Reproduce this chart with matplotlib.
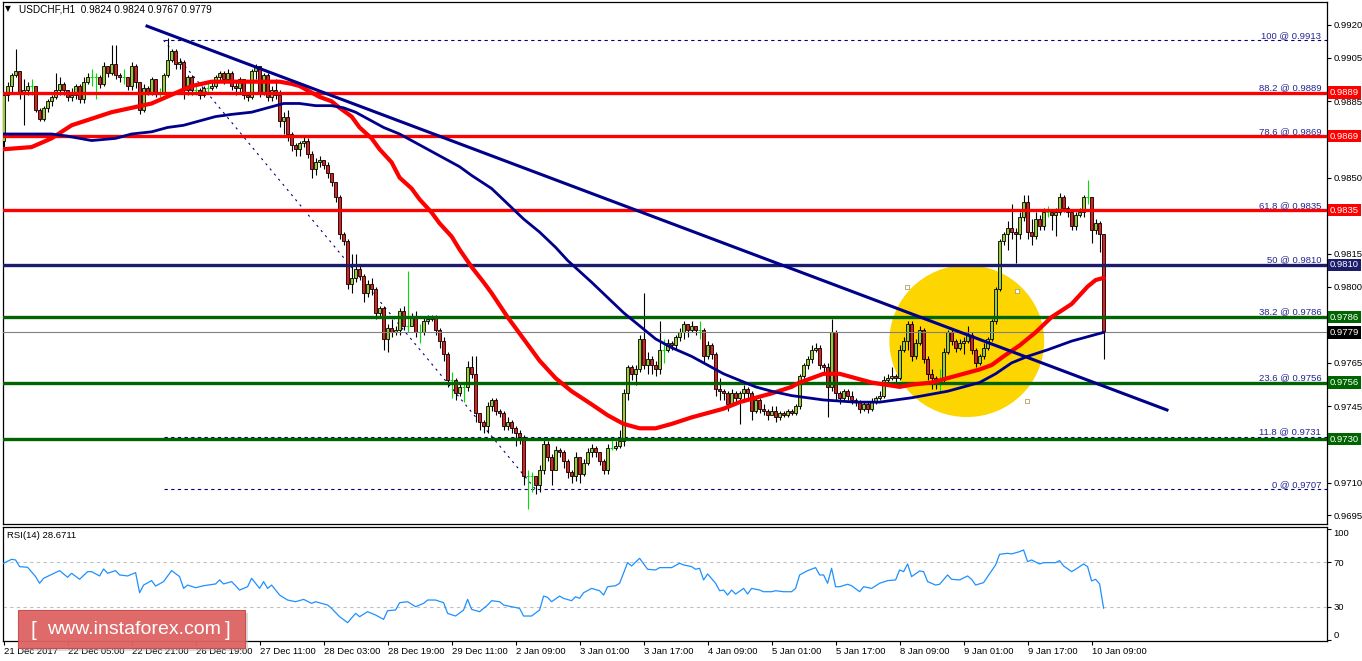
import numpy as np
import matplotlib.pyplot as plt
import matplotlib.transforms as mtransforms
from matplotlib.patches import Ellipse, Rectangle

W, H = 1362, 661

# hourly candles, prices in pips (x 0.0001); open of each bar = previous close
first_open = 9867
close_pips = [
    9888, 9892, 9897, 9899, 9889, 9890, 9892, 9892, 9881, 9877,
    9882, 9885, 9887, 9890, 9893, 9890, 9887, 9888, 9892, 9886,
    9894, 9896, 9896, 9896, 9893, 9901, 9898, 9902, 9897, 9896,
    9896, 9892, 9901, 9894, 9881, 9891, 9889, 9895, 9889, 9889,
    9897, 9904, 9908, 9902, 9903, 9890, 9896, 9890, 9890, 9888,
    9891, 9891, 9892, 9896, 9898, 9895, 9898, 9892, 9891, 9895,
    9888, 9887, 9899, 9901, 9889, 9897, 9887, 9890, 9888, 9876,
    9878, 9870, 9865, 9863, 9866, 9867, 9861, 9854, 9857, 9858,
    9856, 9852, 9848, 9841, 9824, 9821, 9801, 9804, 9808, 9805,
    9797, 9801, 9799, 9788, 9790, 9776, 9781, 9779, 9780, 9789,
    9782, 9782, 9786, 9779, 9779, 9784, 9785, 9786, 9780, 9775,
    9769, 9757, 9757, 9751, 9754, 9754, 9763, 9760, 9742, 9738,
    9736, 9745, 9748, 9743, 9742, 9736, 9738, 9735, 9733, 9731,
    9713, 9713, 9713, 9709, 9716, 9728, 9722, 9716, 9725, 9724,
    9720, 9715, 9713, 9722, 9714, 9719, 9724, 9726, 9724, 9720,
    9716, 9726, 9726, 9727, 9729, 9751, 9763, 9760, 9762, 9776,
    9764, 9767, 9764, 9762, 9771, 9771, 9774, 9773, 9777, 9779,
    9783, 9780, 9782, 9780, 9780, 9768, 9773, 9769, 9753, 9752,
    9751, 9746, 9751, 9749, 9751, 9753, 9751, 9743, 9748, 9744,
    9743, 9741, 9743, 9740, 9742, 9741, 9743, 9742, 9745, 9759,
    9764, 9767, 9771, 9772, 9764, 9763, 9754, 9779, 9751, 9749,
    9752, 9750, 9748, 9747, 9744, 9746, 9744, 9747, 9749, 9750,
    9757, 9758, 9759, 9758, 9771, 9775, 9783, 9768, 9774, 9780,
    9767, 9760, 9758, 9757, 9757, 9770, 9779, 9775, 9772, 9774,
    9775, 9778, 9771, 9765, 9768, 9772, 9776, 9784, 9799, 9821,
    9824, 9827, 9825, 9824, 9832, 9839, 9825, 9823, 9831, 9828,
    9834, 9834, 9833, 9834, 9841, 9836, 9834, 9828, 9833, 9834,
    9841, 9841, 9826, 9829, 9824, 9779,
]
high_pips = [
    9889, 9894, 9898, 9909, 9899, 9895, 9894, 9895, 9892, 9882,
    9883, 9886, 9888, 9898, 9896, 9894, 9890, 9891, 9893, 9893,
    9896, 9898, 9900, 9898, 9897, 9903, 9901, 9911, 9911, 9898,
    9900, 9896, 9903, 9902, 9890, 9893, 9892, 9896, 9895, 9891,
    9898, 9914, 9909, 9909, 9905, 9904, 9897, 9897, 9893, 9891,
    9892, 9894, 9894, 9897, 9899, 9899, 9900, 9899, 9894, 9896,
    9895, 9889, 9900, 9902, 9901, 9898, 9898, 9892, 9895, 9890,
    9880, 9881, 9871, 9866, 9867, 9869, 9868, 9862, 9859, 9860,
    9858, 9857, 9852, 9848, 9842, 9825, 9822, 9815, 9815, 9810,
    9806, 9803, 9804, 9800, 9791, 9791, 9783, 9785, 9782, 9790,
    9791, 9807, 9788, 9789, 9783, 9786, 9787, 9787, 9787, 9781,
    9777, 9770, 9761, 9758, 9756, 9756, 9766, 9768, 9768, 9742,
    9739, 9747, 9749, 9749, 9744, 9743, 9740, 9739, 9736, 9734,
    9732, 9716, 9715, 9713, 9718, 9731, 9729, 9723, 9727, 9726,
    9725, 9721, 9716, 9724, 9722, 9721, 9726, 9728, 9727, 9724,
    9721, 9728, 9730, 9729, 9734, 9753, 9764, 9764, 9764, 9778,
    9797, 9770, 9768, 9766, 9784, 9776, 9776, 9775, 9778, 9781,
    9784, 9783, 9784, 9782, 9784, 9781, 9775, 9774, 9770, 9758,
    9753, 9752, 9753, 9752, 9752, 9755, 9754, 9752, 9749, 9749,
    9746, 9744, 9745, 9745, 9743, 9743, 9744, 9744, 9746, 9760,
    9765, 9768, 9773, 9774, 9773, 9765, 9765, 9785, 9780, 9752,
    9753, 9753, 9752, 9749, 9748, 9747, 9747, 9749, 9750, 9752,
    9759, 9760, 9763, 9760, 9773, 9777, 9784, 9784, 9776, 9782,
    9781, 9768, 9762, 9759, 9762, 9772, 9780, 9780, 9776, 9776,
    9777, 9782, 9779, 9772, 9769, 9774, 9777, 9785, 9800, 9822,
    9825, 9830, 9838, 9827, 9834, 9842, 9842, 9831, 9834, 9833,
    9836, 9837, 9835, 9836, 9843, 9842, 9837, 9835, 9834, 9836,
    9842, 9849, 9841, 9831, 9830, 9824,
]
low_pips = [
    9864, 9885, 9889, 9896, 9886, 9874, 9888, 9888, 9880, 9876,
    9876, 9880, 9883, 9886, 9888, 9888, 9885, 9885, 9886, 9884,
    9884, 9893, 9892, 9886, 9891, 9892, 9896, 9897, 9895, 9894,
    9893, 9890, 9890, 9891, 9879, 9880, 9888, 9888, 9887, 9887,
    9889, 9896, 9903, 9900, 9900, 9886, 9888, 9888, 9888, 9886,
    9887, 9889, 9890, 9891, 9894, 9893, 9894, 9890, 9888, 9889,
    9886, 9885, 9886, 9895, 9887, 9888, 9885, 9885, 9886, 9873,
    9870, 9867, 9862, 9860, 9860, 9864, 9859, 9850, 9851, 9855,
    9854, 9850, 9846, 9839, 9822, 9819, 9799, 9797, 9802, 9803,
    9793, 9795, 9796, 9785, 9786, 9771, 9770, 9777, 9778, 9778,
    9780, 9779, 9783, 9777, 9774, 9778, 9783, 9784, 9778, 9772,
    9766, 9754, 9749, 9748, 9750, 9747, 9752, 9758, 9738, 9734,
    9733, 9733, 9743, 9741, 9740, 9734, 9734, 9733, 9727, 9728,
    9709, 9698, 9706, 9705, 9706, 9714, 9720, 9709, 9716, 9722,
    9717, 9712, 9710, 9711, 9710, 9713, 9718, 9722, 9722, 9718,
    9714, 9714, 9725, 9725, 9726, 9727, 9748, 9757, 9755, 9761,
    9762, 9760, 9760, 9759, 9760, 9765, 9770, 9771, 9771, 9775,
    9776, 9777, 9779, 9778, 9776, 9765, 9767, 9767, 9750, 9748,
    9748, 9743, 9745, 9746, 9737, 9748, 9749, 9739, 9742, 9742,
    9741, 9739, 9741, 9738, 9739, 9740, 9740, 9741, 9741, 9744,
    9757, 9762, 9765, 9770, 9762, 9760, 9740, 9752, 9748, 9746,
    9748, 9748, 9746, 9745, 9742, 9743, 9742, 9743, 9746, 9748,
    9749, 9756, 9757, 9756, 9757, 9770, 9771, 9766, 9767, 9773,
    9765, 9757, 9753, 9753, 9752, 9756, 9769, 9773, 9770, 9771,
    9769, 9774, 9769, 9763, 9764, 9767, 9771, 9775, 9783, 9798,
    9819, 9817, 9822, 9811, 9822, 9830, 9822, 9819, 9822, 9826,
    9826, 9832, 9826, 9823, 9833, 9834, 9832, 9826, 9826, 9832,
    9832, 9838, 9820, 9824, 9816, 9767,
]

# moving averages (bar, pips)
red_ma = [
    (0, 9863), (7, 9864), (12, 9868), (17, 9874), (22, 9877), (27, 9880),
    (32, 9882), (37, 9884), (42, 9888), (47, 9892), (52, 9894), (64, 9894),
    (69, 9894), (72, 9893), (74, 9892), (77, 9889), (79, 9887), (82, 9885),
    (84, 9882), (87, 9878), (89, 9873), (92, 9868), (94, 9863), (97, 9857),
    (99, 9850), (102, 9845), (104, 9840), (107, 9834), (109, 9829), (112, 9823),
    (114, 9817), (117, 9809), (120, 9802), (122, 9797), (126, 9786), (130, 9776),
    (134, 9766), (138, 9758), (142, 9752), (147, 9746), (151, 9741), (155, 9737),
    (159, 9735), (163, 9735), (167, 9737), (172, 9740), (176, 9742), (180, 9744),
    (184, 9747), (188, 9749), (192, 9751), (197, 9754), (199, 9756), (202, 9758),
    (205, 9760), (209, 9760), (213, 9758), (217, 9756), (224, 9754), (227, 9755),
    (232, 9756), (236, 9758), (240, 9760), (244, 9762), (247, 9764), (250, 9768),
    (254, 9773), (258, 9779), (262, 9786), (267, 9792), (271, 9800), (273, 9803),
    (275, 9804),
]
navy_ma = [
    (0, 9870), (7, 9870), (12, 9870), (16, 9869), (22, 9867), (28, 9868),
    (32, 9870), (37, 9871), (41, 9873), (45, 9874), (49, 9876), (53, 9878),
    (57, 9879), (62, 9880), (66, 9882), (70, 9884), (74, 9884), (78, 9883),
    (82, 9883), (85, 9882), (88, 9880), (91, 9877), (95, 9873), (99, 9870),
    (103, 9866), (107, 9862), (110, 9859), (114, 9855), (117, 9851), (122, 9845),
    (126, 9838), (130, 9831), (134, 9825), (138, 9818), (141, 9812), (147, 9802),
    (151, 9795), (155, 9788), (159, 9782), (163, 9776), (167, 9772), (172, 9768),
    (176, 9764), (180, 9760), (184, 9757), (188, 9754), (192, 9752), (197, 9750),
    (205, 9748), (213, 9747), (219, 9747), (227, 9749), (236, 9752), (240, 9754),
    (244, 9756), (248, 9760), (252, 9765), (256, 9768), (261, 9771), (267, 9775),
    (275, 9779),
]

# RSI(14) (bar, value)
rsi_points = [
    (0, 69.1), (2, 72.7), (3, 72.1), (4, 66.1), (6, 65.5), (8, 57.1), (9, 51.1),
    (10, 55.6), (14, 62.5), (16, 56.5), (17, 60.1), (19, 54.7), (21, 61.6),
    (22, 61.6), (24, 57.7), (25, 64.0), (26, 60.1), (28, 62.5), (29, 58.6),
    (31, 57.7), (33, 60.7), (34, 42.6), (35, 49.5), (37, 53.5), (38, 48.6),
    (40, 52.6), (42, 62.5), (44, 57.1), (45, 46.5), (46, 49.5), (48, 47.1),
    (50, 48.9), (53, 50.5), (54, 54.1), (55, 50.5), (57, 52.6), (58, 48.9),
    (59, 45.0), (61, 48.0), (62, 55.6), (64, 46.5), (65, 52.6), (66, 46.5),
    (67, 49.5), (69, 40.5), (71, 36.0), (73, 34.5), (75, 36.6), (77, 33.0),
    (78, 34.5), (81, 31.5), (82, 28.5), (84, 21.0), (86, 15.6), (88, 24.0),
    (89, 21.0), (91, 25.5), (93, 22.5), (95, 18.6), (96, 26.4), (98, 27.0),
    (99, 33.6), (101, 34.5), (103, 30.0), (105, 33.0), (106, 36.0), (108, 36.0),
    (110, 33.6), (111, 24.0), (113, 21.6), (115, 27.0), (116, 36.6), (117, 27.6),
    (119, 25.5), (121, 31.5), (122, 35.4), (124, 34.5), (125, 31.5), (127, 30.0),
    (129, 28.5), (130, 21.6), (132, 21.6), (134, 27.0), (135, 39.6), (136, 38.4),
    (137, 34.5), (139, 39.6), (140, 37.5), (142, 35.4), (143, 39.0), (144, 37.5),
    (145, 42.6), (147, 46.5), (149, 44.4), (150, 40.5), (151, 48.0), (153, 48.9),
    (154, 51.1), (156, 69.7), (157, 66.7), (159, 73.6), (161, 63.7), (163, 63.1),
    (164, 65.2), (167, 65.2), (169, 69.1), (170, 67.6), (172, 66.1), (173, 63.7),
    (174, 64.6), (175, 54.1), (176, 59.5), (178, 51.1), (179, 44.4), (180, 45.0),
    (181, 40.5), (182, 45.0), (183, 41.4), (185, 46.5), (186, 41.4), (187, 46.5),
    (189, 45.0), (190, 43.5), (192, 43.5), (193, 44.4), (195, 43.5), (197, 43.5),
    (198, 46.5), (199, 58.6), (201, 62.5), (203, 65.2), (204, 58.6), (205, 58.6),
    (206, 51.1), (207, 64.6), (208, 48.0), (209, 48.0), (211, 50.2), (212, 48.9),
    (214, 43.5), (215, 48.0), (217, 46.5), (219, 51.1), (221, 53.5), (223, 54.1),
    (224, 63.1), (225, 61.6), (226, 68.5), (227, 57.1), (229, 62.2), (230, 61.6),
    (231, 52.6), (233, 49.5), (234, 50.2), (236, 58.6), (237, 54.7), (239, 54.1),
    (241, 57.7), (242, 54.7), (243, 49.5), (245, 51.7), (246, 57.1), (248, 67.6),
    (249, 77.2), (251, 78.1), (252, 77.5), (254, 79.6), (255, 81.1), (256, 70.6),
    (257, 72.1), (259, 68.5), (260, 69.7), (263, 69.7), (264, 71.5), (265, 66.7),
    (267, 61.6), (268, 63.7), (270, 68.5), (271, 66.1), (272, 53.2), (273, 54.7),
    (274, 50.5), (275, 28.7),
]

# fibonacci retracement object
fib_pct = ['100', '88.2', '78.6', '61.8', '50', '38.2', '23.6', '11.8', '0']
fib_price = [0.9913, 0.9889, 0.9869, 0.9835, 0.9810, 0.9786, 0.9756, 0.9731, 0.9707]
fib_bars = [40, 133]

# horizontal levels
level_price = [0.9889, 0.9869, 0.9835, 0.9810, 0.9786, 0.9756, 0.9730]
level_color = ['#ff0000', '#ff0000', '#ff0000', '#1c1c6c', '#006400', '#006400', '#006400']
last_price = 0.9779

# trendline and ellipse objects
trend_bars = [35.85, 290.85]
trend_price = [0.99195, 0.97434]
ellipse_center = (240.8, 0.97750)
ellipse_size = (38.7, 0.00697)
handle_bars = [225.9, 253.4, 255.9]
handle_price = [0.97998, 0.97980, 0.97475]

price_ticks = [0.9920, 0.9905, 0.9885, 0.9850, 0.9815, 0.9800, 0.9765, 0.9745, 0.9710, 0.9695]
time_labels = ['21 Dec 2017', '22 Dec 05:00', '22 Dec 21:00', '26 Dec 19:00', '27 Dec 11:00',
               '28 Dec 03:00', '28 Dec 19:00', '29 Dec 11:00', '2 Jan 09:00', '3 Jan 01:00',
               '3 Jan 17:00', '4 Jan 09:00', '5 Jan 01:00', '5 Jan 17:00', '8 Jan 09:00',
               '9 Jan 01:00', '9 Jan 17:00', '10 Jan 09:00']

plt.rcParams['font.family'] = ['Liberation Sans', 'DejaVu Sans']

fig = plt.figure(figsize=(W / 100, H / 100), dpi=100)


def fbox(l, t, r, b):
    return [l / W, 1 - b / H, (r - l) / W, (b - t) / H]


ax = fig.add_axes(fbox(2.5, 2, 1327, 524))
ax2 = fig.add_axes(fbox(2.5, 527, 1327, 641))
xlim = (-0.275, 330.85)

# candles
c = np.array(close_pips) / 1e4
o = np.array([first_open] + close_pips[:-1]) / 1e4
hi = np.array(high_pips) / 1e4
lo = np.array(low_pips) / 1e4
bars = np.arange(len(c))
up = c > o
dn = c < o
dj = c == o
top = np.maximum(hi, np.maximum(o, c))
bot = np.minimum(lo, np.minimum(o, c))
ax.vlines(bars[~dj], bot[~dj], top[~dj], color='black', lw=0.8, zorder=3)
ax.vlines(bars[dj], bot[dj], top[dj], color='#00e000', lw=0.8, zorder=3)
ax.hlines(c[dj], bars[dj] - 0.4, bars[dj] + 0.4, color='#00e000', lw=0.8, zorder=3)
ax.bar(bars[up], (c - o)[up], bottom=o[up], width=0.62, color='#9acd32',
       edgecolor='black', linewidth=0.6, zorder=3.5)
ax.bar(bars[dn], (o - c)[dn], bottom=c[dn], width=0.62, color='#e01e1e',
       edgecolor='black', linewidth=0.6, zorder=3.5)

# ellipse highlight
ax.add_patch(Ellipse(ellipse_center, ellipse_size[0], ellipse_size[1],
                     facecolor='#fdd500', edgecolor='none', zorder=1))
ax.scatter(handle_bars, handle_price, marker='s', s=9, facecolor='white',
           edgecolor='#b0a060', linewidth=0.6, zorder=2)

# fibonacci
for pct, p in zip(fib_pct, fib_price):
    ax.plot([fib_bars[0], xlim[1]], [p, p], color='#000080', lw=0.8,
            ls=(0, (3, 3)), zorder=2)
    ax.text(329.4, p + 0.00002, f'{pct} @ {p:.4f}', ha='right', va='bottom',
            fontsize=6.8, color='#24248f', zorder=8)
ax.plot(fib_bars, [fib_price[0], fib_price[-1]], color='#000080', lw=0.8,
        ls=(0, (2, 4)), zorder=2)

# horizontal levels
for p, col in zip(level_price, level_color):
    ax.axhline(p, color=col, lw=2.4, zorder=4)
ax.axhline(last_price, color='#808080', lw=0.8, zorder=4)

# moving averages and trendline
rb, rv = zip(*red_ma)
ax.plot(rb, np.array(rv) / 1e4, color='#ff0000', lw=3.0, zorder=5)
nb, nv = zip(*navy_ma)
ax.plot(nb, np.array(nv) / 1e4, color='#00008b', lw=2.0, zorder=6)
ax.plot(trend_bars, trend_price, color='#00008b', lw=2.2, zorder=6)

ax.set_xlim(*xlim)
ax.set_ylim(0.96911, 0.993055)
ax.set_xticks([])
ax.yaxis.tick_right()
ax.set_yticks(price_ticks)
ax.set_yticklabels([f'{t:.4f}' for t in price_ticks])
ax.tick_params(axis='y', labelsize=6.8, length=3, width=0.8, pad=1.5)
for s in ax.spines.values():
    s.set_linewidth(0.9)

trans = mtransforms.blended_transform_factory(ax.transAxes, ax.transData)
for p, col in zip(level_price + [last_price], level_color + ['#000000']):
    ax.text(1.0023, p, f'{p:.4f}', transform=trans, ha='left', va='center',
            fontsize=6.8, color='white', clip_on=False, zorder=10,
            bbox=dict(boxstyle='square,pad=0.18', fc=col, ec='none'))

# RSI panel
rx, rv2 = zip(*rsi_points)
ax2.plot(rx, rv2, color='#1e90ff', lw=0.9, zorder=3)
for lvl in (70, 30):
    ax2.axhline(lvl, color='#c0c0c0', lw=0.8, ls=(0, (3, 3)), zorder=2)
ax2.set_xlim(*xlim)
ax2.set_ylim(-0.9, 101.8)
ax2.yaxis.tick_right()
ax2.set_yticks([100, 70, 30, 0])
ylabs = ax2.set_yticklabels(['100', '70', '30', '0'])
ylabs[0].set_va('top')
ylabs[3].set_va('bottom')
ax2.tick_params(axis='y', labelsize=6.8, length=3, width=0.8, pad=1.5)
ax2.set_xticks(np.arange(0, 16 * len(time_labels), 16))
ax2.set_xticklabels(time_labels, ha='left', fontsize=6.8)
ax2.tick_params(axis='x', length=3, width=0.8, pad=1.5)
for s in ax2.spines.values():
    s.set_linewidth(0.9)

# header texts
fig.text(8 / W, 1 - 9 / H, '\u25bc', fontsize=5.5, va='center', ha='center',
         family='DejaVu Sans')
fig.text(19 / W, 1 - 9 / H, 'USDCHF,H1  0.9824 0.9824 0.9767 0.9779',
         fontsize=7.2, va='center', ha='left')
fig.text(7 / W, 1 - 536 / H, 'RSI(14) 28.6711', fontsize=6.8, va='center', ha='left')

# watermark
fig.patches.append(Rectangle((21 / W, 1 - 651 / H), 227 / W, 38 / H,
                             transform=fig.transFigure, facecolor='#b0b0b0',
                             alpha=0.45, edgecolor='none', zorder=20))
fig.patches.append(Rectangle((18 / W, 1 - 648 / H), 227 / W, 38 / H,
                             transform=fig.transFigure, facecolor='#e06060',
                             alpha=0.92, edgecolor='#c84848', lw=0.8, zorder=21))
fig.text(30 / W, 1 - 630 / H, '[', fontsize=15, color='white', va='center',
         ha='left', zorder=22)
fig.text(134 / W, 1 - 630 / H, 'www.instaforex.com', fontsize=14, color='white',
         va='center', ha='center', zorder=22)
fig.text(231 / W, 1 - 630 / H, ']', fontsize=15, color='white', va='center',
         ha='right', zorder=22)

fig.savefig('out.png', dpi=100)
